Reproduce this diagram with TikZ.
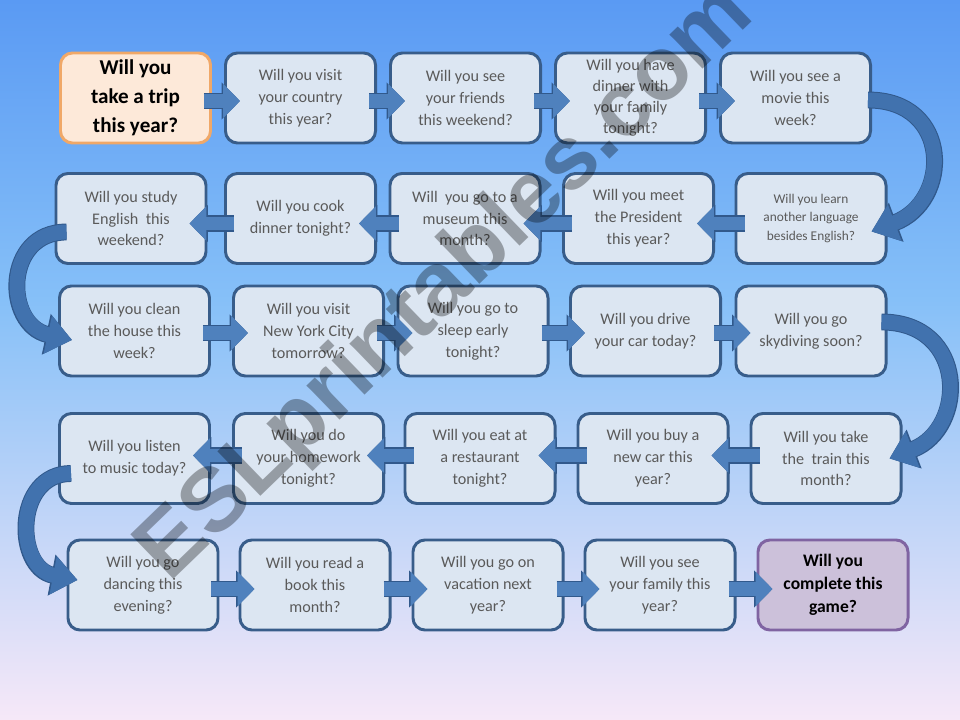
\documentclass[tikz,border=0pt]{standalone}
\usepackage{fontspec}
\setmainfont{Carlito}
\newfontfamily\markfont{Liberation Sans}
\usetikzlibrary{arrows.meta}

\definecolor{bgtop}{HTML}{5A9AF3}
\definecolor{bgmid}{HTML}{86C0F8}
\definecolor{bgbot}{HTML}{F6E8F8}
\definecolor{boxfill}{HTML}{DCE6F2}
\definecolor{boxline}{HTML}{385D8A}
\definecolor{qtext}{HTML}{5A5A5A}
\definecolor{startfill}{HTML}{FDE9D9}
\definecolor{startline}{HTML}{F0A868}
\definecolor{endfill}{HTML}{CCC1DA}
\definecolor{endline}{HTML}{8064A2}
\definecolor{arrowfill}{HTML}{4F81BD}
\definecolor{arrowline}{HTML}{31598C}
\definecolor{turnfill}{HTML}{4172AE}

\tikzset{every picture/.style={line width=0.75pt}}
\tikzset{
  qbox/.style={draw=boxline, fill=boxfill, line width=2.1pt, rounded corners=0.3cm,
    minimum width=3.75cm, minimum height=2.25cm, inner sep=1pt, align=center,
    text=qtext, font=\fontsize{11.5}{15.6}\selectfont},
  startbox/.style={qbox, draw=startline, fill=startfill, text=black,
    font=\bfseries\fontsize{15}{20.5}\selectfont},
  endbox/.style={qbox, draw=endline, fill=endfill, text=black,
    font=\bfseries\fontsize{12.5}{16.5}\selectfont},
  joinarr/.style={draw=arrowfill, line width=9.9pt, -{Triangle[length=0.42cm, width=0.83cm]},
    preaction={draw=arrowline, line width=11.4pt, -{Triangle[length=0.46cm, width=0.9cm]}}},
  turnarr/.style={draw=turnfill, line width=10.6pt, -{Triangle[length=0.62cm, width=0.93cm]},
    preaction={draw=arrowline, line width=12pt, -{Triangle[length=0.66cm, width=1cm]}}},
  wmark/.style={rotate=44, text=black, text opacity=0.32,
    font=\markfont\bfseries\fontsize{64}{64}\selectfont}
}

\begin{document}
\begin{tikzpicture}[x=0.025cm, y=-0.025cm]
    \useasboundingbox (0,0) rectangle (960,720);
    \shade[top color=bgtop, bottom color=bgmid] (0,0) rectangle (960,300);
    \shade[top color=bgmid, bottom color=bgbot] (0,300) rectangle (960,720);

    \node[startbox] (a1) at (135.5,98) {Will you\\take a trip\\this year?};
    \node[qbox] (a2) at (300.5,98) {Will you visit\\your country\\this year?};
    \node[qbox] (a3) at (465.5,98) {Will you see\\your friends\\this weekend?};
    \node[qbox, font=\fontsize{11.5}{15}\selectfont] (a4) at (630.5,98) {Will you have\\dinner with\\your family\\tonight?};
    \node[qbox] (a5) at (795.5,98) {Will you see a\\movie this\\week?};

    \node[qbox] (b1) at (131,218.5) {Will you study\\English\ \ this\\weekend?};
    \node[qbox] (b2) at (300.5,218.5) {Will you cook\\dinner tonight?};
    \node[qbox] (b3) at (465,218.5) {Will\ \ you go to a\\museum this\\month?};
    \node[qbox] (b4) at (638.5,218.5) {Will you meet\\the President\\this year?};
    \node[qbox, font=\fontsize{9.5}{13}\selectfont] (b5) at (811,218.5) {Will you learn\\another language\\besides English?};

    \node[qbox] (c1) at (134.5,331) {Will you clean\\the house this\\week?};
    \node[qbox] (c2) at (308.5,331) {Will you visit\\New York City\\tomorrow?};
    \node[qbox] (c3) at (473,331) {Will you go to\\sleep early\\tonight?};
    \node[qbox] (c4) at (645.5,331) {Will you drive\\your car today?};
    \node[qbox] (c5) at (811,331) {Will you go\\skydiving soon?};

    \node[qbox] (d1) at (134.5,458.5) {Will you listen\\to music today?};
    \node[qbox] (d2) at (308.5,458.5) {Will you do\\your homework\\tonight?};
    \node[qbox] (d3) at (480,458.5) {Will you eat at\\a restaurant\\tonight?};
    \node[qbox] (d4) at (653,458.5) {Will you buy a\\new car this\\year?};
    \node[qbox] (d5) at (826,458.5) {Will you take\\the\ \ train this\\month?};

    \node[qbox] (e1) at (143,585) {Will you go\\dancing this\\evening?};
    \node[qbox] (e2) at (315,585) {Will you read a\\book this\\month?};
    \node[qbox] (e3) at (488,585) {Will you go on\\vacation next\\year?};
    \node[qbox] (e4) at (660,585) {Will you see\\your family this\\year?};
    \node[endbox] (e5) at (833,585) {Will you\\complete this\\game?};

    \foreach \s/\t in {a1/a2, a2/a3, a3/a4, a4/a5}
        \draw[joinarr] ([shift={(-8,3)}]\s.east) -- ([shift={(16,3)}]\t.west);
    \foreach \s/\t in {b5/b4, b4/b3, b3/b2, b2/b1}
        \draw[joinarr] ([shift={(10,5)}]\s.west) -- ([shift={(-18,5)}]\t.east);
    \foreach \s/\t in {c1/c2, c2/c3, c3/c4, c4/c5}
        \draw[joinarr] ([shift={(-8,2)}]\s.east) -- ([shift={(16,2)}]\t.west);
    \foreach \s/\t in {d5/d4, d4/d3, d3/d2, d2/d1}
        \draw[joinarr] ([shift={(10,-3)}]\s.west) -- ([shift={(-18,-3)}]\t.east);
    \foreach \s/\t in {e1/e2, e2/e3, e3/e4, e4/e5}
        \draw[joinarr] ([shift={(-8,4)}]\s.east) -- ([shift={(16,4)}]\t.west);

    \draw[turnarr] ([shift={(-4,2)}]a5.east) .. controls +(84,0) and +(80,-30) .. ([shift={(-16,13)}]b5.east);
    \draw[turnarr] ([shift={(12,13.5)}]b1.west) .. controls +(-63,0) and +(-68,-15) .. ([shift={(14,9)}]c1.west);
    \draw[turnarr] ([shift={(-6,-9)}]c5.east) .. controls +(86,0) and +(78,-30) .. ([shift={(-13,0)}]d5.east);
    \draw[turnarr] ([shift={(13,15)}]d1.west) .. controls +(-57,0) and +(-63,-12) .. ([shift={(11,-5)}]e1.west);

    \node[wmark] (mark) at (447,284) {ESLprintables.com};
\end{tikzpicture}
\end{document}
